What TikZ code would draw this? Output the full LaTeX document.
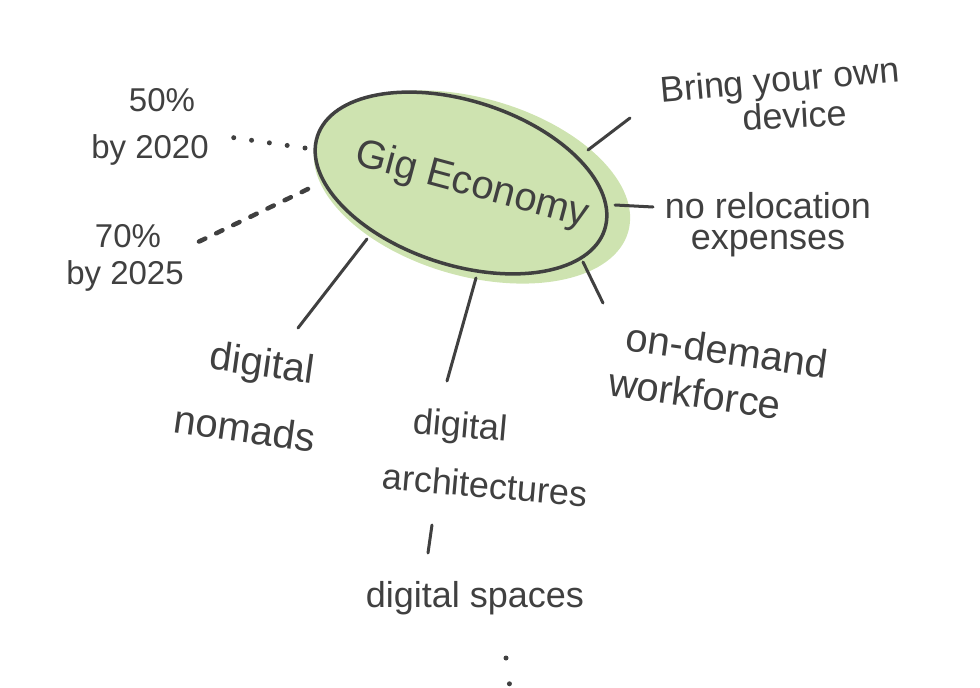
\documentclass[tikz,border=0pt]{standalone}
\usepackage{fontspec}
\setmainfont{Liberation Sans}
\usetikzlibrary{shapes.geometric}
\definecolor{ink}{HTML}{404040}
\definecolor{leaf}{RGB}{206,227,176}
\begin{document}
\begin{tikzpicture}[x=1pt,y=-1pt,
  lbl/.style={text=ink, inner sep=0pt, anchor=center},
  conn/.style={draw=ink, line width=3pt, line cap=round},
  dotconn/.style={draw=ink, line width=5pt, line cap=round, dash pattern=on 0pt off 18pt},
  dashconn/.style={draw=ink, line width=4.5pt, line cap=round, dash pattern=on 7pt off 12pt},
  big/.style={font=\fontsize{40}{44}\selectfont},
  mid/.style={font=\fontsize{36}{40}\selectfont},
  small/.style={font=\fontsize{33}{36}\selectfont}]
\useasboundingbox (0,0) rectangle (980,688);
% central blob
\node[ellipse, fill=leaf, inner sep=0pt, minimum width=325, minimum height=178, rotate=-16] (blob) at (472,187) {};
\node[ellipse, draw=ink, line width=3.5pt, inner sep=0pt, minimum width=302, minimum height=164, rotate=-18] (ring) at (461,183) {};
\node[lbl, big, rotate=-15] (title) at (472,186) {Gig Economy};
% labels
\node[lbl, mid, rotate=5] (byo1) at (780,83) {Bring your own};
\node[lbl, mid, rotate=3] (byo2) at (795,115) {device};
\node[lbl, mid] (nor1) at (768,206) {no relocation};
\node[lbl, mid] (nor2) at (768,244) {expenses};
\node[lbl, big, rotate=-8] (ond1) at (727,350) {on-demand};
\node[lbl, big, rotate=-8] (ond2) at (695,393) {workforce};
\node[lbl, big, rotate=-8] (nom1) at (262,366) {digital};
\node[lbl, big, rotate=-8] (nom2) at (245,428) {nomads};
\node[lbl, mid, rotate=-5] (arc1) at (460,428) {digital};
\node[lbl, mid, rotate=-5] (arc2) at (485,485) {architectures};
\node[lbl, mid] (spc) at (475,598) {digital spaces};
\node[lbl, small] (p501) at (162,100) {50\%};
\node[lbl, small] (p502) at (150,150) {by 2020};
\node[lbl, small] (p701) at (128,236) {70\%};
\node[lbl, small] (p702) at (125,276) {by 2025};
% connector end points
\coordinate (byoA) at (588,150); \coordinate (byoB) at (630,118);
\coordinate (norA) at (615,205); \coordinate (norB) at (653,207);
\coordinate (ondA) at (583,262); \coordinate (ondB) at (603,303);
\coordinate (arcA) at (476,278); \coordinate (arcB) at (447,381);
\coordinate (nomA) at (367,239); \coordinate (nomB) at (298,328);
\coordinate (linkA) at (432,525); \coordinate (linkB) at (428,553);
\coordinate (spcA) at (506,658); \coordinate (spcB) at (510,688);
\coordinate (p50A) at (305,148); \coordinate (p50B) at (229,137);
\coordinate (p70A) at (308,189); \coordinate (p70B) at (194,244);
% connectors
\draw[conn] (byoA) -- (byoB);
\draw[conn] (norA) -- (norB);
\draw[conn] (ondA) -- (ondB);
\draw[conn] (arcA) -- (arcB);
\draw[conn] (nomA) -- (nomB);
\draw[conn] (linkA) -- (linkB);
\draw[dotconn, dash pattern=on 0pt off 26pt] (spcA) -- (spcB);
\draw[dotconn] (p50A) -- (p50B);
\draw[dashconn] (p70A) -- (p70B);
\end{tikzpicture}
\end{document}
